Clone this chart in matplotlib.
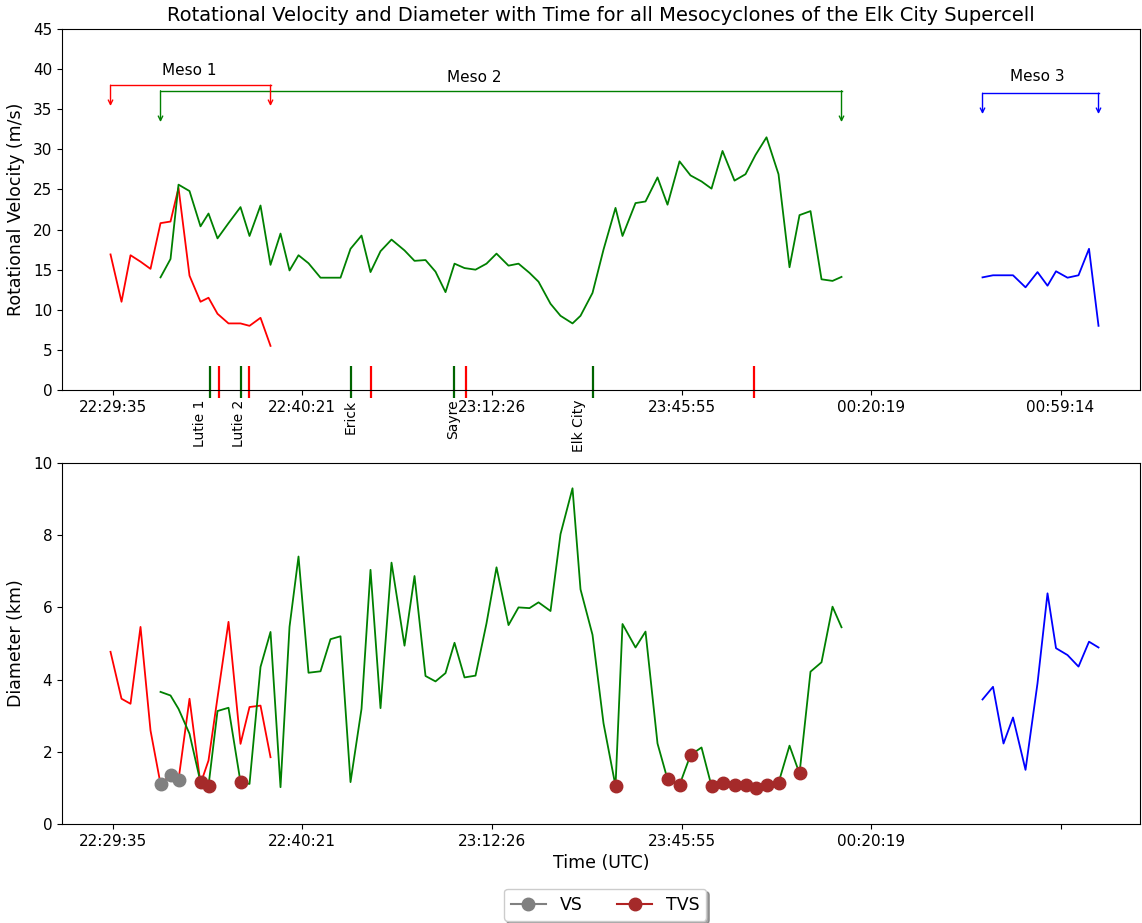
import matplotlib
matplotlib.use("Agg")
import matplotlib.pyplot as plt
from matplotlib.lines import Line2D

# Scan positions along the shared time axis
meso1_t = [0.0, 1.1, 2.0, 3.0, 4.0, 5.0, 6.0, 6.8, 7.9, 9.0, 9.8, 10.7, 11.8, 13.0, 13.9, 15.0, 16.0]
meso2_t = [5.0, 6.0, 6.8, 7.9, 9.0, 9.8, 10.7, 11.8, 13.0, 13.9, 15.0, 16.0, 17.0, 17.9, 18.8, 19.8,
           21.0, 22.0, 23.0, 24.0, 25.1, 26.0, 27.0, 28.1, 29.4, 30.4, 31.5, 32.5, 33.5, 34.4, 35.4, 36.5,
           37.6, 38.6, 39.8, 40.8, 41.9, 42.8, 44.0, 45.0, 46.2, 47.0, 48.2, 49.3, 50.5, 51.2, 52.5, 53.5,
           54.7, 55.7, 56.9, 58.0, 59.1, 60.1, 61.2, 62.4, 63.5, 64.5, 65.6, 66.8, 67.9, 68.9, 70.0, 71.1,
           72.2, 73.1]
meso3_t = [87.2, 88.25, 89.3, 90.25, 91.5, 92.7, 93.7, 94.55, 95.7, 96.8, 97.85, 98.8]

# Rotational velocity (m/s)
meso1_vrot = [16.9, 11.0, 16.8, 16.0, 15.1, 20.8, 21.0, 25.2, 14.25, 11.0, 11.5, 9.5, 8.3, 8.3, 8.0, 9.0, 5.5]
meso2_vrot = [14.04, 16.33, 25.6, 24.8, 20.4, 22.0, 18.9, 20.8, 22.8, 19.2, 23.0, 15.6, 19.5, 14.9, 16.8,
              15.8, 14.0, 14.0, 14.0, 17.6, 19.25, 14.7, 17.3, 18.75, 17.4, 16.1, 16.2, 14.75, 12.2, 15.75,
              15.2, 15.0, 15.75, 17.0, 15.5, 15.75, 14.6, 13.5, 10.75, 9.25, 8.3, 9.25, 12.1, 17.5, 22.7,
              19.2, 23.3, 23.5, 26.5, 23.1, 28.5, 26.75, 26.0, 25.1, 29.8, 26.1, 26.9, 29.3, 31.5, 26.9,
              15.3, 21.8, 22.3, 13.8, 13.6, 14.1]
meso3_vrot = [14.04, 14.3, 14.3, 14.3, 12.8, 14.7, 13.0, 14.8, 14.0, 14.3, 17.6, 8.0]

# Diameter (km)
meso1_diam = [4.77, 3.47, 3.33, 5.46, 2.59, 1.11, 1.35, 1.22, 3.47, 1.11, 1.76, 3.5, 5.6, 2.22, 3.24, 3.28, 1.85]
meso2_diam = [3.66, 3.56, 3.19, 2.5, 1.16, 1.06, 3.13, 3.22, 1.16, 1.11, 4.35, 5.32, 1.02, 5.46, 7.41,
              4.19, 4.23, 5.12, 5.2, 1.16, 3.19, 7.04, 3.21, 7.24, 4.94, 6.87, 4.1, 3.95, 4.18, 5.02,
              4.06, 4.11, 5.56, 7.11, 5.51, 6.0, 5.98, 6.14, 5.9, 8.03, 9.3, 6.5, 5.24, 2.79, 1.05,
              5.54, 4.89, 5.33, 2.23, 1.24, 1.08, 1.91, 2.12, 1.05, 1.13, 1.08, 1.08, 0.99, 1.08, 1.14,
              2.17, 1.40, 4.22, 4.48, 6.02, 5.45]
meso3_diam = [3.45, 3.8, 2.23, 2.95, 1.5, 3.9, 6.39, 4.87, 4.68, 4.36, 5.05, 4.89]

# Scans flagged as vortex signature (VS) and tornadic vortex signature (TVS)
vs_idx_meso1 = [5, 6, 7]
tvs_idx_meso2 = [4, 5, 8, 44, 49, 50, 51, 53, 54, 55, 56, 57, 58, 59, 61]

# Tornado touchdown / lift times and town names
tor_start = [9.9, 13.0, 24.05, 34.3, 48.25]
tor_end = [10.8, 13.85, 26.05, 35.55, 64.35]
town_names = ["Lutie 1", "Lutie 2", "Erick", "Sayre", "Elk City"]
town_pos = [8.95, 12.8, 24.0, 34.3, 46.8]

# Time axis ticks
tick_pos = [0.2, 19.15, 38.1, 57.1, 76.05, 95.0]
tick_labels = ["22:29:35", "22:40:21", "23:12:26", "23:45:55", "00:20:19", "00:59:14"]

C1, C2, C3 = "red", "green", "blue"
XLIM = (-4.85, 102.95)

fig = plt.figure(figsize=(11.42, 9.23), dpi=100)
ax1 = fig.add_axes([0.0543, 0.57746, 0.94396, 0.39112])
ax2 = fig.add_axes([0.0543, 0.10726, 0.94396, 0.39111])

lw = 1.3
# Top panel: rotational velocity
ax1.plot(meso1_t, meso1_vrot, color=C1, lw=lw)
ax1.plot(meso2_t, meso2_vrot, color=C2, lw=lw)
ax1.plot(meso3_t, meso3_vrot, color=C3, lw=lw)

# Tornado markers along the bottom of the top panel
ax1.vlines(tor_start, -1, 3, colors="darkgreen", lw=1.6, clip_on=False)
ax1.vlines(tor_end, -1, 3, colors="red", lw=1.6, clip_on=False)
for name, pos in zip(town_names, town_pos):
    ax1.text(pos, -1.2, name, rotation=90, ha="center", va="top", fontsize=10, clip_on=False)


def bracket(ax, t0, t1, level, tip, color, label, label_x, label_y):
    ax.plot([t0, t1], [level, level], color=color, lw=1.0)
    for t in (t0, t1):
        ax.annotate("", xy=(t, tip), xytext=(t, level),
                    arrowprops=dict(arrowstyle="->", color=color, lw=1.0,
                                    shrinkA=0, shrinkB=0, mutation_scale=8))
    ax.text(label_x, label_y, label, ha="center", va="center", fontsize=11)


bracket(ax1, meso1_t[0], meso1_t[-1], 38.0, 35.4, C1, "Meso 1", 7.9, 39.8)
bracket(ax1, meso2_t[0], meso2_t[-1], 37.3, 33.4, C2, "Meso 2", 36.4, 38.9)
bracket(ax1, meso3_t[0], meso3_t[-1], 37.0, 34.4, C3, "Meso 3", 92.7, 39.1)

ax1.set_xlim(*XLIM)
ax1.set_ylim(0, 45)
ax1.set_yticks(range(0, 46, 5))
ax1.set_xticks(tick_pos)
ax1.set_xticklabels(tick_labels)
ax1.set_ylabel("Rotational Velocity (m/s)", fontsize=12.5, labelpad=6)
ax1.set_title("Rotational Velocity and Diameter with Time for all Mesocyclones of the Elk City Supercell",
              fontsize=14, pad=6)

# Bottom panel: diameter
ax2.plot(meso1_t, meso1_diam, color=C1, lw=lw)
ax2.plot(meso2_t, meso2_diam, color=C2, lw=lw)
ax2.plot(meso3_t, meso3_diam, color=C3, lw=lw)
ax2.plot([meso1_t[i] for i in vs_idx_meso1], [meso1_diam[i] for i in vs_idx_meso1],
         "o", color="gray", ms=9, zorder=5)
ax2.plot([meso2_t[i] for i in tvs_idx_meso2], [meso2_diam[i] for i in tvs_idx_meso2],
         "o", color="brown", ms=9, zorder=5)

ax2.set_xlim(*XLIM)
ax2.set_ylim(0, 10)
ax2.set_yticks(range(0, 11, 2))
ax2.set_xticks(tick_pos)
ax2.set_xticklabels(tick_labels[:-1] + [""])
ax2.set_ylabel("Diameter (km)", fontsize=12.5, labelpad=6)
ax2.set_xlabel("Time (UTC)", fontsize=12.5)

for ax in (ax1, ax2):
    ax.tick_params(labelsize=11)

handles = [Line2D([], [], color="gray", marker="o", ms=9),
           Line2D([], [], color="firebrick", marker="o", ms=9, markerfacecolor="brown",
                  markeredgecolor="brown")]
fig.legend(handles, ["VS", "TVS"], loc="upper center", bbox_to_anchor=(0.53, 1 - 889 / 923),
           borderaxespad=0, ncol=2, fontsize=12.5, shadow=True, frameon=True)

fig.savefig("out.png", dpi=100)
